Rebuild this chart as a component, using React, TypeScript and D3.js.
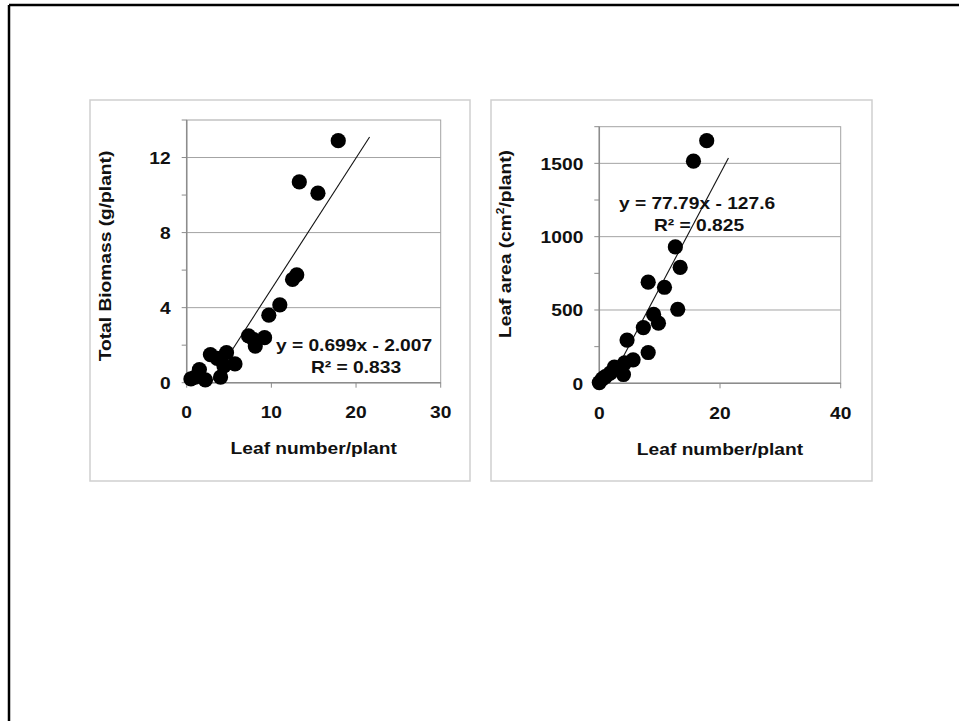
import React from "react";
import * as d3 from "d3";

// Panel 1: leaf number vs total biomass
const biomassLeafNumber = [0.5, 1.0, 1.5, 2.2, 2.8, 3.6, 4.0, 4.4, 4.7, 5.7, 7.3, 7.9, 8.1, 9.2, 9.7, 11.0, 12.5, 13.0, 13.3, 15.5, 17.9];
const totalBiomass = [0.2, 0.3, 0.7, 0.15, 1.5, 1.3, 0.3, 0.9, 1.6, 1.0, 2.5, 2.3, 1.95, 2.4, 3.6, 4.15, 5.5, 5.75, 10.7, 10.1, 12.9];
const biomassXTicks = [0, 10, 20, 30];
const biomassYTicks = [0, 4, 8, 12];
const biomassYMinor = [2, 6, 10, 14];
const biomassFit = { slope: 0.699, intercept: -2.007, r2: "0.833", xEnd: 21.6 };

// Panel 2: leaf number vs leaf area
const areaLeafNumber = [0, 0.5, 1.0, 1.8, 2.5, 3.2, 4.0, 4.2, 4.6, 5.6, 7.3, 8.1, 8.1, 9.0, 9.8, 10.8, 12.6, 13.0, 13.4, 15.6, 17.8];
const leafArea = [5, 30, 45, 70, 110, 100, 60, 140, 295, 160, 380, 210, 690, 470, 410, 655, 930, 505, 790, 1515, 1655];
const areaXTicks = [0, 20, 40];
const areaYTicks = [0, 500, 1000, 1500];
const areaYMinor = [250, 750, 1250, 1750];
const areaFit = { slope: 77.79, intercept: -127.6, r2: "0.825", xEnd: 21.4 };

const FONT = "'Liberation Sans', Arial, sans-serif";
const INK = "#111";
const GRID = "#a3a3a3";

type TxtProps = {
  x: number;
  y: number;
  rotate?: number;
  anchor?: "start" | "middle" | "end";
  children: React.ReactNode;
};

// Bold label, slightly widened to match the slide's wide sans face
function Txt({ x, y, rotate = 0, anchor = "middle", children }: TxtProps) {
  return (
    <g transform={`translate(${x},${y}) rotate(${rotate}) scale(1.2,1)`}>
      <text
        textAnchor={anchor}
        dominantBaseline="central"
        fontFamily={FONT}
        fontWeight="bold"
        fontSize={16}
        fill={INK}
      >
        {children}
      </text>
    </g>
  );
}

type PanelProps = {
  box: [number, number, number, number];
  plot: { left: number; right: number; top: number; bottom: number };
  xDomain: [number, number];
  yDomain: [number, number];
  xs: number[];
  ys: number[];
  xTicks: number[];
  yTicks: number[];
  yMinor: number[];
  fit: { slope: number; intercept: number; r2: string; xEnd: number };
  eqPos: [number, number];
  yTitle: React.ReactNode;
  yTitleCenter: number;
  yTitleX: number;
};

function Panel(p: PanelProps) {
  const x = d3.scaleLinear().domain(p.xDomain).range([p.plot.left, p.plot.right]);
  const y = d3.scaleLinear().domain(p.yDomain).range([p.plot.bottom, p.plot.top]);
  const pts = p.xs.map((v, i) => [v, p.ys[i]] as [number, number]);
  const x0 = -p.fit.intercept / p.fit.slope;
  const fitLine = d3
    .line<number>()
    .x((d) => x(d))
    .y((d) => y(p.fit.slope * d + p.fit.intercept));
  const [bx, by, bw, bh] = p.box;
  const fmt = d3.format("d");
  return (
    <g>
      <rect x={bx} y={by} width={bw} height={bh} fill="#fff" stroke="#cfcfcf" strokeWidth={1.5} />
      {/* gridlines */}
      {p.yTicks.filter((t) => t > 0).map((t) => (
        <line key={"g" + t} x1={p.plot.left} x2={p.plot.right} y1={y(t)} y2={y(t)} stroke={GRID} strokeWidth={1} />
      ))}
      {/* plot frame */}
      <rect
        x={p.plot.left}
        y={p.plot.top}
        width={p.plot.right - p.plot.left}
        height={p.plot.bottom - p.plot.top}
        fill="none"
        stroke={GRID}
        strokeWidth={1}
      />
      {/* axes */}
      <line x1={p.plot.left} x2={p.plot.left} y1={p.plot.top} y2={p.plot.bottom} stroke="#8c8c8c" strokeWidth={1.5} />
      <line x1={p.plot.left} x2={p.plot.right} y1={p.plot.bottom} y2={p.plot.bottom} stroke="#8c8c8c" strokeWidth={1.5} />
      {p.yTicks.concat(p.yMinor).map((t) => (
        <line key={"yt" + t} x1={p.plot.left - 5} x2={p.plot.left} y1={y(t)} y2={y(t)} stroke="#8c8c8c" strokeWidth={1} />
      ))}
      {p.xTicks.map((t) => (
        <line key={"xt" + t} x1={x(t)} x2={x(t)} y1={p.plot.bottom} y2={p.plot.bottom + 5} stroke="#8c8c8c" strokeWidth={1} />
      ))}
      {/* tick labels */}
      {p.yTicks.map((t) => (
        <Txt key={"yl" + t} x={p.plot.left - 16} y={y(t) + 1} anchor="end">
          {fmt(t)}
        </Txt>
      ))}
      {p.xTicks.map((t) => (
        <Txt key={"xl" + t} x={x(t)} y={p.plot.bottom + 30}>
          {fmt(t)}
        </Txt>
      ))}
      {/* trend line */}
      <path d={fitLine([x0, p.fit.xEnd]) || ""} fill="none" stroke={INK} strokeWidth={1.1} />
      {/* points */}
      {pts.map(([a, b], i) => (
        <circle key={"p" + i} cx={x(a)} cy={y(b)} r={7.6} fill="#000" />
      ))}
      {/* equation */}
      <Txt x={p.eqPos[0]} y={p.eqPos[1]}>
        {`y = ${p.fit.slope}x - ${Math.abs(p.fit.intercept)}`}
      </Txt>
      <Txt x={p.eqPos[0] + 2} y={p.eqPos[1] + 22}>
        {`R² = ${p.fit.r2}`}
      </Txt>
      {/* axis titles */}
      <Txt x={(p.plot.left + p.plot.right) / 2} y={p.plot.bottom + 66}>
        Leaf number/plant
      </Txt>
      <Txt x={p.yTitleX} y={p.yTitleCenter} rotate={-90}>
        {p.yTitle}
      </Txt>
    </g>
  );
}

export default function App() {
  return (
    <svg
      width={959}
      height={721}
      style={{ position: "absolute", left: 0, top: 0, background: "#fff" }}
    >
      <rect x={0} y={0} width={959} height={721} fill="#fff" />
      {/* slide frame */}
      <line x1={9} x2={9} y1={5} y2={721} stroke="#000" strokeWidth={2.5} />
      <line x1={9} x2={959} y1={5} y2={5} stroke="#000" strokeWidth={2.5} />
      <Panel
        box={[90, 100, 380, 381]}
        plot={{ left: 186.7, right: 440.7, top: 120, bottom: 382.7 }}
        xDomain={[0, 30]}
        yDomain={[0, 14]}
        xs={biomassLeafNumber}
        ys={totalBiomass}
        xTicks={biomassXTicks}
        yTicks={biomassYTicks}
        yMinor={biomassYMinor}
        fit={biomassFit}
        eqPos={[354, 346]}
        yTitle="Total Biomass (g/plant)"
        yTitleCenter={256}
        yTitleX={106}
      />
      <Panel
        box={[491, 100, 381, 381]}
        plot={{ left: 599.3, right: 840.7, top: 126.7, bottom: 383.3 }}
        xDomain={[0, 40]}
        yDomain={[0, 1750]}
        xs={areaLeafNumber}
        ys={leafArea}
        xTicks={areaXTicks}
        yTicks={areaYTicks}
        yMinor={areaYMinor}
        fit={areaFit}
        eqPos={[697, 204]}
        yTitle={
          <>
            Leaf area (cm
            <tspan baselineShift="super" fontSize={10}>2</tspan>
            /plant)
          </>
        }
        yTitleCenter={244}
        yTitleX={506}
      />
    </svg>
  );
}
